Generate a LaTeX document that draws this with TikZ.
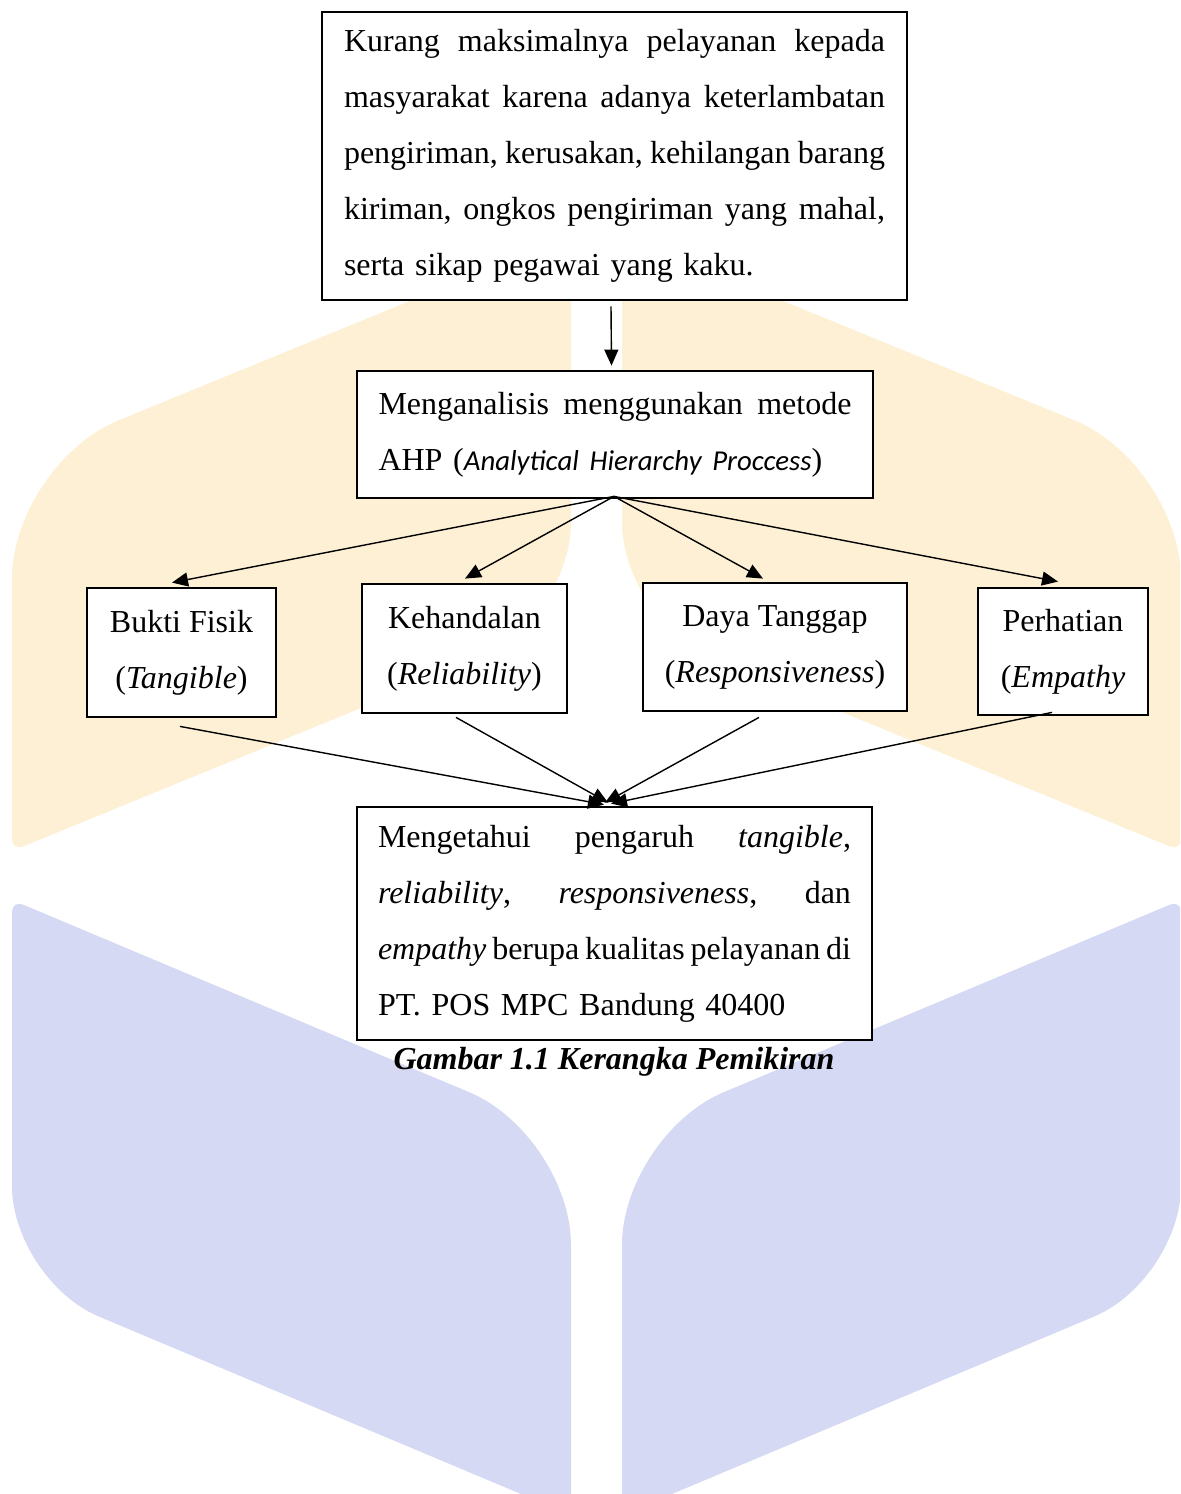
\documentclass[tikz,border=0pt]{standalone}
\usepackage{fontspec}
\setmainfont{Liberation Serif}
\newfontfamily\carlito{Carlito}
\usetikzlibrary{arrows.meta,calc}
\definecolor{wmorange}{RGB}{254,240,213}
\definecolor{wmblue}{RGB}{213,217,243}
\frenchspacing
\newcommand\jf{\hskip 0pt plus 1fill minus 3pt\relax}
\newcommand\jline[2]{\makebox[#1][s]{#2}}
\newcommand\wmshape[9]{%
  \fill[#1] ($#2!#6!#3$)
    -- ($#3!#7!#2$) .. controls ($#3!#7*0.45!#2$) and ($#3!#7*0.45!#4$) .. ($#3!#7!#4$)
    -- ($#4!#8!#3$) .. controls ($#4!#8*0.45!#3$) and ($#4!#8*0.45!#5$) .. ($#4!#8!#5$)
    -- ($#5!#9!#4$) .. controls ($#5!#9*0.45!#4$) and ($#5!#9*0.45!#2$) .. ($#5!#9!#2$)
    -- ($#2!#6!#5$) .. controls ($#2!#6*0.45!#5$) and ($#2!#6*0.45!#3$) .. ($#2!#6!#3$)
    -- cycle;}
\begin{document}
\begin{tikzpicture}[x=0.5pt,y=-0.5pt,
  box/.style={draw=black,line width=1.4pt,fill=white,inner sep=0pt,
    font=\fontsize{16pt}{28pt}\selectfont},
  conn/.style={line width=0.7pt,-{Triangle[length=8pt,width=7pt]}}]
\useasboundingbox (0,0) rectangle (1180,1494);
\fill[white] (0,0) rectangle (1180,1494);
% watermark
\begin{scope}
\clip (0,0) rectangle (1180,1494);
\wmshape{wmorange}{(12,464)}{(571,235)}{(571,622)}{(12,851)}{57.5pt}{6pt}{50pt}{6pt}
\wmshape{wmorange}{(1181,464)}{(622,235)}{(622,622)}{(1181,851)}{57.5pt}{6pt}{50pt}{6pt}
\wmshape{wmblue}{(12,900)}{(571,1135)}{(571,1515)}{(12,1280)}{6pt}{55pt}{6pt}{47pt}
\wmshape{wmblue}{(1181,900)}{(622,1135)}{(622,1515)}{(1181,1280)}{6pt}{55pt}{6pt}{47pt}
\end{scope}
% boxes
\node[box,minimum width=292.5pt,minimum height=144pt,text width=270.5pt,align=left] (top) at (614.5,156) {%
\jline{270.5pt}{Kurang \jf maksimalnya \jf pelayanan \jf kepada}\\
\jline{270.5pt}{masyarakat \jf karena \jf adanya \jf keterlambatan}\\
\jline{270.5pt}{pengiriman, \jf kerusakan, \jf kehilangan \jf barang}\\
\jline{270.5pt}{kiriman, \jf ongkos \jf pengiriman \jf yang \jf mahal,}\\
serta sikap pegawai yang kaku.};
\node[box,minimum width=258pt,minimum height=63.5pt,text width=236.5pt,align=left] (ahp) at (615,434.5) {%
\jline{236.5pt}{Menganalisis \jf menggunakan \jf metode}\\
AHP ({\carlito\fontsize{14.4pt}{28pt}\selectfont\itshape Analytical Hierarchy Proccess})};
\node[box,minimum width=94.5pt,minimum height=64.5pt,align=center] (bukti) at (181.5,652.5) {Bukti Fisik\\(\textit{Tangible})};
\node[box,minimum width=102.5pt,minimum height=64.5pt,align=center] (kehand) at (464.5,648.5) {Kehandalan\\(\textit{Reliability})};
\node[box,minimum width=132pt,minimum height=64pt,align=center] (daya) at (775,647) {Daya Tanggap\\(\textit{Responsiveness})};
\node[box,minimum width=85pt,minimum height=63.5pt,align=center] (perhat) at (1063,651.5) {Perhatian\\(\textit{Empathy}};
\node[box,minimum width=257.5pt,minimum height=116.5pt,text width=236.5pt,align=left] (result) at (614.5,923.5) {%
\jline{236.5pt}{Mengetahui \jf pengaruh \jf \textit{tangible},}\\
\jline{236.5pt}{\textit{reliability}, \jf \textit{responsiveness}, \jf dan}\\
\jline{236.5pt}{\textit{empathy} \jf berupa \jf kualitas \jf pelayanan \jf di}\\
PT. POS MPC Bandung 40400};
\node[font=\fontsize{16pt}{28pt}\selectfont\bfseries\itshape,inner sep=0pt] (cap) at (614,1062) {Gambar 1.1 Kerangka Pemikiran};
% connectors
\coordinate (fan) at ([xshift=-0.5pt,yshift=1.5pt]ahp.south);
\draw[conn] ([xshift=-1.75pt,yshift=-2.5pt]top.south) -- ([xshift=-1.75pt,yshift=2pt]ahp.north);
\draw[conn] (fan) -- ([xshift=-4.75pt,yshift=2pt]bukti.north);
\draw[conn] (fan) -- ([xshift=0.25pt,yshift=2pt]kehand.north);
\draw[conn] (fan) -- ([xshift=-6pt,yshift=1.5pt]daya.north);
\draw[conn] (fan) -- ([xshift=-2.5pt,yshift=2.5pt]perhat.north);
\draw[conn] ([xshift=-0.75pt,yshift=-4pt]bukti.south) -- ([xshift=-5.25pt,yshift=0.5pt]result.north);
\draw[conn] ([xshift=-4.25pt,yshift=-1.5pt]kehand.south) -- ([xshift=-3.25pt,yshift=1.5pt]result.north);
\draw[conn] ([xshift=-8pt,yshift=-2.5pt]daya.south) -- ([xshift=-4.75pt,yshift=1.5pt]result.north);
\draw[conn] ([xshift=-5.5pt,yshift=2pt]perhat.south) -- ([xshift=-1.75pt,yshift=1pt]result.north);
\end{tikzpicture}
\end{document}
